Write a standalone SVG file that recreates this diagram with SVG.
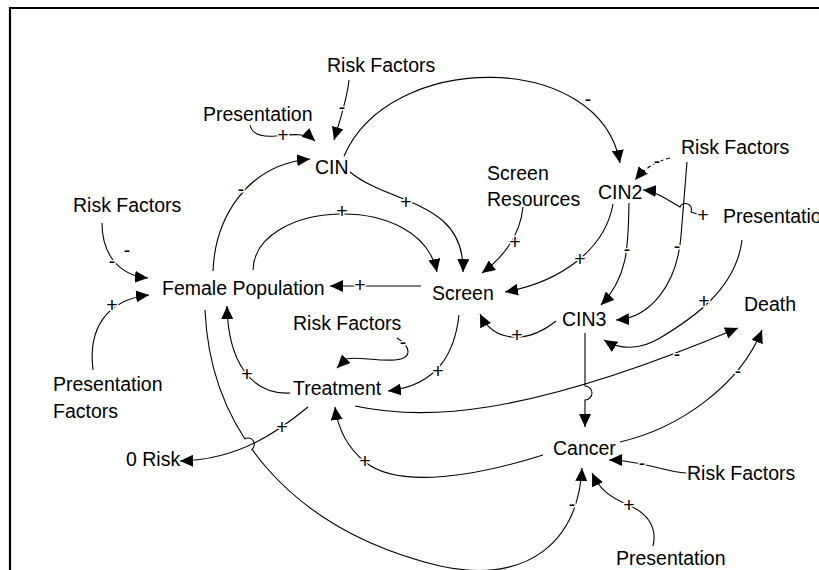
<svg xmlns="http://www.w3.org/2000/svg" width="819" height="570" viewBox="0 0 819 570">
<style>
text{font-family:"Liberation Sans",Arial,sans-serif;font-size:19.5px;fill:#000}
.c{fill:none;stroke:#000;stroke-width:1.1}
.a{marker-end:url(#ah)}
.d{stroke-dasharray:4 3}
.p{text-anchor:middle;stroke:#fff;stroke-width:3;paint-order:stroke;stroke-linejoin:round}
.gap{fill:none;stroke:#fff;stroke-width:4}
</style>
<defs>
<marker id="ah" markerWidth="14" markerHeight="12" refX="13" refY="6" orient="auto" markerUnits="userSpaceOnUse">
<path d="M0,0 L13,6 L0,12 z" fill="#000"/>
</marker>
</defs>
<rect width="819" height="570" fill="#fff"/>
<path d="M10,570 V8 H819" fill="none" stroke="#000" stroke-width="2.2"/>

<g id="connectors">
<path class="c a" d="M349,80 C 347,100 340,120 334,140"/>
<path class="c a" d="M250,125 C 252,135 262,137 275,136 C 295,134 306,133 315,141"/>
<path class="c a" d="M213,271 C 215,220 245,165 310,159"/>
<path class="c a" d="M344,156 C 390,50 600,50 620,163"/>
<path class="c a" d="M350,172 C 390,205 465,200 463,272"/>
<path class="c a" d="M253,270 C 255,200 420,190 437,272"/>
<path class="c a" d="M421,286 L330,286"/>
<path class="c a" d="M523,207 C 521,228 510,252 482,273"/>
<path class="c a" d="M613,204 C 605,250 560,282 505,292"/>
<path class="c a" d="M629,203 C 628,240 630,275 601,305"/>
<path class="c a d" d="M670,158 C 657,161 645,168 635,180"/>
<path class="c a" d="M687,162 L681,236 C 677,285 650,318 616,320"/>
<path class="c a" d="M697,214 L691,212 A5.5,5.5 0 0 0 680,207 C 668,200 655,191 643,190"/>
<path class="c a" d="M742,240 C 736,290 690,320 660,338 C 640,350 620,350 604,340"/>
<path class="c a" d="M556,321 C 530,342 495,345 480,314"/>
<path class="c a" d="M355,406 C 420,420 520,420 738,328"/>
<path class="c a" d="M585,333 V386 A7,7 0 0 1 585,400 V427"/>
<path class="c a" d="M620,442 C 680,428 740,385 762,330"/>
<path class="c a" d="M686,473 C 665,472 640,460 609,460"/>
<path class="c a" d="M653,546 C 658,525 645,512 628,505 C 610,497 600,490 592,473"/>
<path class="c a" d="M205,310 C 210,430 290,530 440,566 C 530,585 578,540 582,468"/>
<path class="gap" d="M244.5,439 L251.5,449.5"/>
<path class="c" d="M244.5,439 A6.3,6.3 0 0 1 251.5,449.5"/>
<path class="c a" d="M308,407 C 280,430 240,460 180,461"/>
<path class="c a" d="M290,393 C 250,395 228,360 227,306"/>
<path class="c a" d="M397,338 C 410,346 414,358 395,360 C 375,361 355,356 346,359 L337,368"/>
<path class="c a" d="M459,315 C 455,350 440,385 388,391"/>
<path class="c a" d="M543,455 C 480,475 400,490 365,462 C 348,448 338,430 335,407"/>
<path class="c a" d="M102,223 C 102,250 115,275 148,278"/>
<path class="c a" d="M93,370 C 88,330 105,300 149,295"/>

<text class="p" x="342" y="114">-</text>
<text class="p" x="283" y="142">+</text>
<text class="p" x="241" y="196">-</text>
<text class="p" x="588" y="106">-</text>
<text class="p" x="406" y="209">+</text>
<text class="p" x="342" y="218">+</text>
<text class="p" x="360" y="292">+</text>
<text class="p" x="515" y="249">+</text>
<text class="p" x="580" y="266">+</text>
<text class="p" x="627" y="256">-</text>
<text class="p" x="657" y="168">-</text>
<text class="p" x="703" y="222">+</text>
<text class="p" x="677" y="253">-</text>
<text class="p" x="704" y="308">+</text>
<text class="p" x="517" y="342">+</text>
<text class="p" x="677" y="361">-</text>
<text class="p" x="738" y="378">-</text>
<text class="p" x="642" y="470">-</text>
<text class="p" x="629" y="512">+</text>
<text class="p" x="572" y="511">-</text>
<text class="p" x="247" y="381">+</text>
<text class="p" x="403" y="349">-</text>
<text class="p" x="438" y="378">+</text>
<text class="p" x="282" y="434">+</text>
<text class="p" x="365" y="468">+</text>
<text class="p" x="112" y="268">-</text>
<text class="p" x="127" y="257">-</text>
<text class="p" x="112" y="312">+</text>
</g>

<g id="risk-top"><text x="327" y="72">Risk Factors</text></g>
<g id="presentation-top"><text x="203" y="121">Presentation</text></g>
<g id="cin"><text x="315" y="174">CIN</text></g>
<g id="screen-resources"><text x="487" y="180">Screen</text><text x="487" y="206">Resources</text></g>
<g id="cin2"><text x="598" y="199">CIN2</text></g>
<g id="risk-right"><text x="681" y="154">Risk Factors</text></g>
<g id="presentation-right"><text x="723" y="223">Presentation</text></g>
<g id="risk-left"><text x="73" y="212">Risk Factors</text></g>
<g id="female-population"><text x="162" y="295">Female Population</text></g>
<g id="screen"><text x="432" y="300">Screen</text></g>
<g id="cin3"><text x="562" y="326">CIN3</text></g>
<g id="death"><text x="744" y="311">Death</text></g>
<g id="risk-mid"><text x="293" y="330">Risk Factors</text></g>
<g id="treatment"><text x="293" y="395">Treatment</text></g>
<g id="presentation-factors"><text x="53" y="391">Presentation</text><text x="53" y="418">Factors</text></g>
<g id="zero-risk"><text x="126" y="466">0 Risk</text></g>
<g id="cancer"><text x="553" y="455">Cancer</text></g>
<g id="risk-lower-right"><text x="687" y="480">Risk Factors</text></g>
<g id="presentation-bottom"><text x="616" y="565">Presentation</text></g>
</svg>
